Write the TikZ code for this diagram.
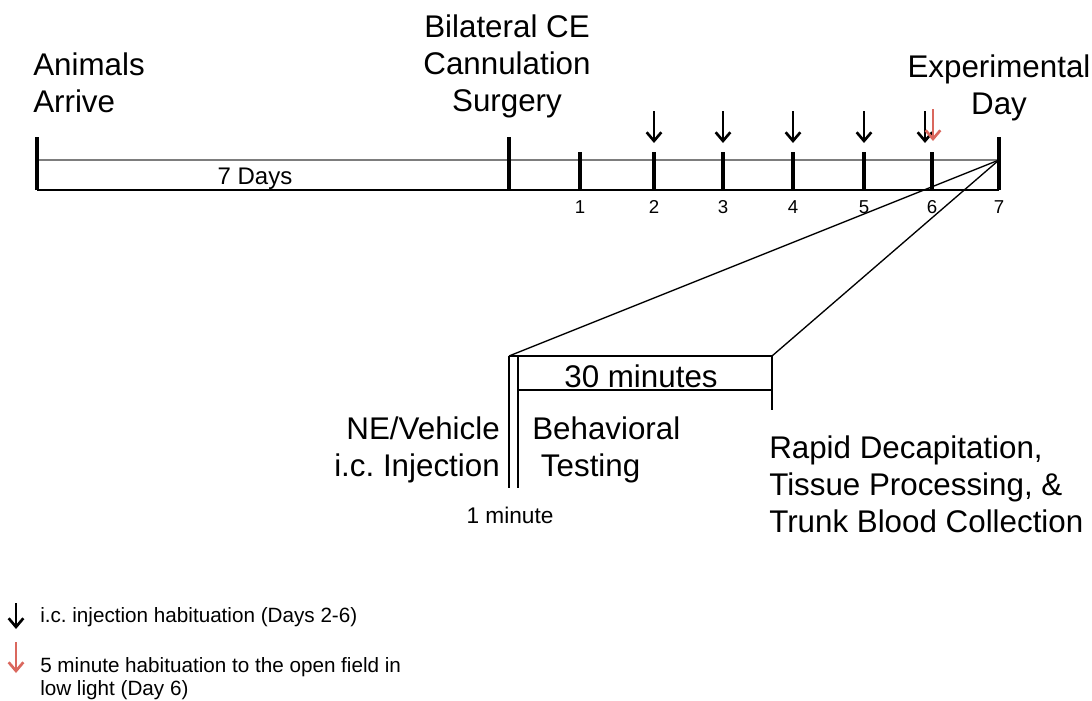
\documentclass[tikz,border=0pt]{standalone}
\usepackage{fontspec}
\setmainfont{Liberation Sans}
\usetikzlibrary{arrows.meta}
\definecolor{habred}{RGB}{218,104,94}
\definecolor{rulegray}{RGB}{125,125,125}
\tikzset{
  lbl/.style={inner sep=0pt,font=\fontsize{23.5}{27.75}\selectfont},
  daynum/.style={inner sep=0pt,anchor=base,font=\fontsize{14}{16}\selectfont},
  legendtext/.style={inner sep=0pt,anchor=north west,align=left,font=\fontsize{15.5}{17.25}\selectfont},
  tick/.style={line width=2.3pt},
  rule/.style={line width=1.5pt},
  zoomline/.style={line width=1pt},
  inj/.style={line width=2pt,-{Straight Barb[length=6.5pt,width=11pt]}},
  habit/.style={inj,draw=habred}
}
\frenchspacing
\begin{document}
\begin{tikzpicture}[x=0.75pt,y=-0.75pt]
  \useasboundingbox (0,0) rectangle (1092,700);
  % time line
  \coordinate (arrive) at (37,190);
  \coordinate (surgery) at (509,190);
  \coordinate (day1) at (580,190);
  \coordinate (day2) at (654,190);
  \coordinate (day3) at (723,190);
  \coordinate (day4) at (793,190);
  \coordinate (day5) at (864,190);
  \coordinate (day6) at (932,190);
  \coordinate (day7) at (999,190);
  \coordinate (linestart) at (37,160);
  \coordinate (lineend) at (999,160);
  \draw[rule,draw=rulegray] (linestart) -- (lineend);
  \draw[rule] (arrive) -- (day7);
  \draw[tick] (arrive) -- ++(0,-53);
  \draw[tick] (surgery) -- ++(0,-53);
  \draw[tick] (day1) -- ++(0,-38);
  \draw[tick] (day2) -- ++(0,-38);
  \draw[tick] (day3) -- ++(0,-38);
  \draw[tick] (day4) -- ++(0,-38);
  \draw[tick] (day5) -- ++(0,-38);
  \draw[tick] (day6) -- ++(0,-38);
  \draw[tick] (day7) -- ++(0,-53);
  \node[daynum] (n1) at (580,213) {1};
  \node[daynum] (n2) at (654,213) {2};
  \node[daynum] (n3) at (723,213) {3};
  \node[daynum] (n4) at (793,213) {4};
  \node[daynum] (n5) at (864,213) {5};
  \node[daynum] (n6) at (932,213) {6};
  \node[daynum] (n7) at (999,213) {7};
  \node[inner sep=0pt,anchor=base,font=\fontsize{18}{20}\selectfont] (week) at (255,184) {7 Days};
  % injections
  \draw[inj] (654,111) -- (654,143);
  \draw[inj] (723,111) -- (723,143);
  \draw[inj] (793,111) -- (793,143);
  \draw[inj] (864,111) -- (864,143);
  \draw[inj] (925,111) -- (925,143);
  \draw[habit] (933,109) -- (933,141);
  % headings
  \node[lbl,anchor=north west,align=left] (animals) at (33,53) {Animals\\Arrive};
  \node[lbl,anchor=north,align=center] (cannula) at (507,15) {Bilateral CE\\Cannulation\\Surgery};
  \node[lbl,anchor=north,align=center] (expday) at (999,55) {Experimental\\Day};
  % experimental day
  \coordinate (boxa) at (509,356);
  \coordinate (boxb) at (772,356);
  \coordinate (boxc) at (518,356);
  \draw[zoomline] (lineend) -- (boxa);
  \draw[zoomline] (lineend) -- (boxb);
  \draw[rule] (boxa) -- (boxb);
  \draw[rule] (518,390) -- (772,390);
  \draw[rule] (boxa) -- (509,488);
  \draw[rule] (boxc) -- (518,488);
  \draw[rule] (boxb) -- (772,410);
  \node[lbl,anchor=base] (halfhour) at (641,387) {30 minutes};
  \node[lbl,anchor=north east,align=right] (inject) at (500,417) {NE/Vehicle\\i.c. Injection};
  \node[lbl,anchor=north west,align=left] (behav) at (532,417) {Behavioral\\\ Testing};
  \node[lbl,anchor=north west,align=left] (decap) at (769,436) {Rapid Decapitation,\\Tissue Processing, \&\\Trunk Blood Collection};
  \node[inner sep=0pt,anchor=base,font=\fontsize{17}{19}\selectfont] (oneminute) at (510,523) {1 minute};
  % legend
  \draw[inj] (16,603) -- (16,629);
  \draw[habit] (16,642) -- (16,673);
  \node[legendtext] (leginj) at (40,607) {i.c. injection habituation (Days 2-6)};
  \node[legendtext] (leghab) at (40,657) {5 minute habituation to the open field in\\low light (Day 6)};
\end{tikzpicture}
\end{document}
